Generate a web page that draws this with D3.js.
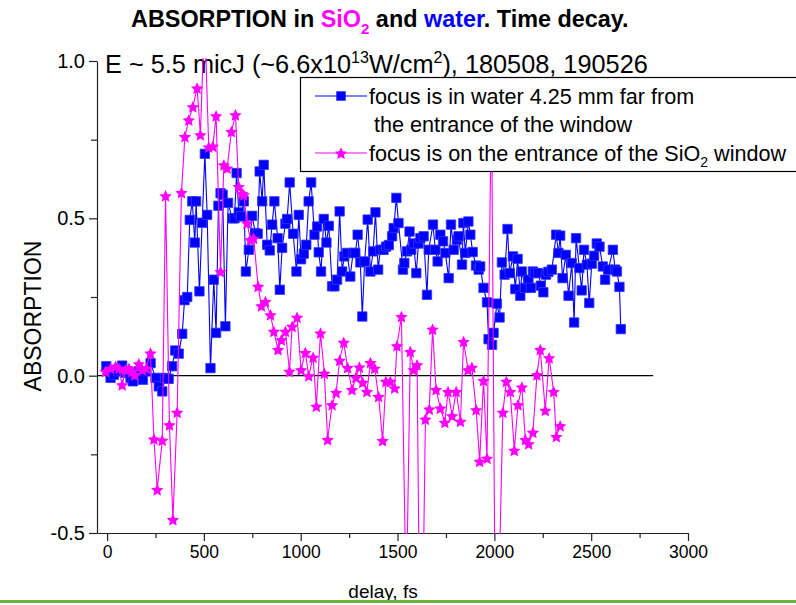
<!DOCTYPE html>
<html>
<head>
<meta charset="utf-8">
<script src="https://cdn.jsdelivr.net/npm/d3@7"></script>
<style>
  html, body { margin: 0; padding: 0; background: #fff; }
  svg { display: block; }
  text { font-family: "Liberation Sans", Arial, Helvetica, sans-serif; }
</style>
</head>
<body>
<svg id="chart" width="796" height="605"></svg>
<script>
// Water series: focus 4.25 mm inside the water (delay in fs, absorption)
const waterDelay = [
  -4, 18, 35, 58, 78, 92, 104, 121, 133, 147, 164, 185, 199, 225, 250, 267, 285, 300, 318, 336,
  352, 370, 388, 400, 414, 427, 440, 453, 460, 477, 491, 505, 517, 534, 551, 563, 575, 586, 597, 611,
  625, 646, 658, 669, 680, 692, 706, 717, 732, 749, 766, 778, 788, 801, 809, 827, 840, 852, 864, 881,
  892, 904, 921, 930, 943, 961, 978, 990, 1002, 1016, 1029, 1041, 1054, 1071, 1085, 1093, 1105, 1119, 1133, 1145,
  1162, 1174, 1188, 1201, 1214, 1225, 1239, 1256, 1270, 1282, 1294, 1308, 1318, 1330, 1346, 1360, 1374, 1386, 1400, 1411,
  1428, 1441, 1455, 1472, 1480, 1494, 1505, 1528, 1535, 1549, 1562, 1571, 1583, 1597, 1608, 1618, 1635, 1652, 1661, 1683,
  1695, 1707, 1721, 1735, 1747, 1764, 1776, 1790, 1807, 1815, 1833, 1840, 1850, 1866, 1876, 1888, 1905, 1919, 1927, 1944,
  1962, 1970, 1988, 1996, 2013, 2027, 2039, 2053, 2068, 2079, 2096, 2108, 2120, 2134, 2142, 2159, 2176, 2189, 2199, 2210,
  2228, 2240, 2253, 2267, 2279, 2297, 2319, 2331, 2340, 2352, 2369, 2383, 2400, 2412, 2422, 2439, 2451, 2463, 2478, 2490,
  2503, 2515, 2529, 2543, 2560, 2572, 2589, 2612, 2624, 2633, 2646, 2653
];
const waterAbs = [
  0.030, -0.007, 0.003, 0.014, 0.032, 0.009, 0.014, -0.007, -0.018, 0.003, 0.014, -0.013, 0.014, 0.040, -0.007, -0.034, -0.050, -0.007, -0.010, 0.030,
  0.080, 0.070, 0.133, 0.240, 0.250, 0.495, 0.554, 0.423, 0.554, 0.268, 0.486, 0.705, 0.511, 0.024, 0.305, 0.136, 0.540, 0.580, 0.575, 0.157,
  0.549, 0.500, 0.500, 0.644, 0.519, 0.506, 0.554, 0.331, 0.400, 0.508, 0.453, 0.451, 0.649, 0.554, 0.670, 0.416, 0.398, 0.480, 0.554, 0.437,
  0.273, 0.406, 0.483, 0.498, 0.614, 0.451, 0.331, 0.511, 0.370, 0.388, 0.416, 0.554, 0.614, 0.448, 0.474, 0.392, 0.331, 0.498, 0.423, 0.476,
  0.284, 0.284, 0.305, 0.522, 0.331, 0.379, 0.390, 0.315, 0.390, 0.390, 0.448, 0.360, 0.188, 0.363, 0.496, 0.331, 0.395, 0.519, 0.337, 0.400,
  0.400, 0.410, 0.415, 0.443, 0.469, 0.565, 0.485, 0.337, 0.358, 0.395, 0.458, 0.400, 0.420, 0.326, 0.420, 0.437, 0.443, 0.257, 0.400, 0.480,
  0.400, 0.363, 0.448, 0.427, 0.390, 0.310, 0.480, 0.400, 0.432, 0.443, 0.353, 0.485, 0.390, 0.490, 0.448, 0.393, 0.350, 0.337, 0.347, 0.279,
  0.233, 0.116, 0.098, 0.136, 0.229, 0.185, 0.360, 0.321, 0.466, 0.326, 0.379, 0.275, 0.371, 0.254, 0.331, 0.279, 0.305, 0.279, 0.331, 0.326,
  0.326, 0.286, 0.265, 0.321, 0.330, 0.337, 0.448, 0.390, 0.445, 0.310, 0.384, 0.254, 0.358, 0.169, 0.437, 0.342, 0.271, 0.400, 0.353, 0.231,
  0.356, 0.381, 0.420, 0.410, 0.347, 0.305, 0.337, 0.400, 0.337, 0.331, 0.282, 0.148
];

// SiO2 series: focus on the entrance of the SiO2 window
const sio2Delay = [
  -8, 18, 44, 61, 78, 95, 113, 130, 143, 164, 182, 202, 224, 242, 259, 285, 302, 322, 340, 362,
  384, 402, 422, 443, 465, 482, 503, 525, 546, 563, 586, 603, 620, 642, 663, 680, 697, 706, 723, 740,
  757, 780, 797, 818, 844, 861, 883, 900, 921, 942, 956, 981, 1002, 1024, 1041, 1064, 1081, 1102, 1122, 1139,
  1162, 1183, 1201, 1222, 1242, 1265, 1285, 1303, 1320, 1342, 1360, 1382, 1402, 1423, 1440, 1463, 1485, 1497, 1520, 1545,
  1566, 1583, 1601, 1620, 1644, 1664, 1681, 1699, 1721, 1744, 1761, 1782, 1803, 1825, 1841, 1864, 1884, 1906, 1924, 1944,
  1962, 1985, 2008, 2044, 2062, 2082, 2103, 2122, 2142, 2160, 2177, 2199, 2220, 2237, 2263, 2283, 2306, 2320, 2340
];
const sio2Abs = [
  0.014, 0.024, 0.030, 0.024, -0.029, 0.019, 0.024, 0.014, 0.003, 0.038, 0.019, 0.024, 0.072, -0.201, -0.362, -0.205, 0.572, -0.156, -0.457, -0.116,
  0.582, 0.760, 0.813, 0.855, 0.914, 0.766, 1.150, 0.727, 0.729, 0.826, 0.331, 0.670, 0.660, 0.776, 0.829, 0.601, 0.580, 0.575, 0.485, 0.432,
  0.437, 0.284, 0.222, 0.236, 0.194, 0.141, 0.083, 0.114, 0.141, 0.014, 0.157, 0.186, 0.019, 0.074, 0.000, 0.059, -0.097, 0.136, 0.008, -0.203,
  -0.092, -0.053, 0.049, 0.106, 0.026, -0.044, -0.005, 0.028, -0.021, -0.050, 0.042, 0.024, -0.066, -0.206, -0.018, -0.018, -0.039, 0.095, 0.188, -0.740,
  0.077, 0.019, 0.035, -1.200, -0.138, -0.106, 0.148, -0.044, -0.103, -0.148, -0.050, -0.127, -0.050, -0.145, 0.109, 0.019, 0.027, -0.108, -0.272, -0.015,
  -0.262, 0.900, -1.100, -0.116, -0.018, -0.050, -0.237, -0.092, -0.036, -0.203, -0.216, -0.180, 0.003, 0.083, -0.110, 0.057, -0.050, -0.193, -0.159
];

const xMajorTicks = [0, 500, 1000, 1500, 2000, 2500, 3000];
const xMinorTicks = [250, 750, 1250, 1750, 2250, 2750];
const yMajorTicks = [-0.5, 0.0, 0.5, 1.0];
const yMinorTicks = [-0.25, 0.25, 0.75];

const BLUE = "#0000ff";
const MAGENTA = "#ff00ff";
const FONT = '"Liberation Sans", Arial, Helvetica, sans-serif';

const svg = d3.select("#chart");

const x = d3.scaleLinear().domain([-52, 3000]).range([97, 688]);
const y = d3.scaleLinear().domain([-0.5, 1.0]).range([533, 61]);

// ---- titles ----
const title = svg.append("text")
  .attr("x", 131).attr("y", 27)
  .attr("font-size", 23.4).attr("font-weight", "bold").attr("fill", "#000");
title.append("tspan").text("ABSORPTION in ");
title.append("tspan").attr("fill", MAGENTA).text("SiO");
title.append("tspan").attr("fill", MAGENTA).attr("font-size", 15).attr("dy", 7).text("2");
title.append("tspan").attr("dy", -7).text(" and ");
title.append("tspan").attr("fill", BLUE).text("water");
title.append("tspan").text(". Time decay.");

const sub = svg.append("text")
  .attr("x", 105).attr("y", 73)
  .attr("font-size", 25.3).attr("fill", "#000");
sub.append("tspan").text("E ~ 5.5 micJ (~6.6x10");
sub.append("tspan").attr("font-size", 16).attr("dy", -10).text("13");
sub.append("tspan").attr("dy", 10).text("W/cm");
sub.append("tspan").attr("font-size", 16).attr("dy", -10).text("2");
sub.append("tspan").attr("dy", 10).text("), 180508, 190526");

// ---- axes ----
const axisColor = "#222";
const yFormat = v => d3.format(".1f")(v).replace("\u2212", "-");

const gx = svg.append("g").attr("transform", `translate(0,${y.range()[0]})`);
gx.call(d3.axisBottom(x).tickValues(xMajorTicks).tickSize(8).tickSizeOuter(0).tickPadding(5).tickFormat(d3.format("d")));
const gxm = svg.append("g").attr("transform", `translate(0,${y.range()[0]})`);
gxm.call(d3.axisBottom(x).tickValues(xMinorTicks).tickSize(5).tickSizeOuter(0).tickFormat(""));
gxm.select(".domain").remove();

const gy = svg.append("g").attr("transform", `translate(${x.range()[0]},0)`);
gy.call(d3.axisLeft(y).tickValues(yMajorTicks).tickSize(8).tickSizeOuter(0).tickPadding(4).tickFormat(yFormat));
const gym = svg.append("g").attr("transform", `translate(${x.range()[0]},0)`);
gym.call(d3.axisLeft(y).tickValues(yMinorTicks).tickSize(6).tickSizeOuter(0).tickFormat(""));
gym.select(".domain").remove();

[gx, gxm, gy, gym].forEach(g => {
  g.selectAll(".domain").attr("stroke", axisColor).attr("stroke-width", 1.2);
  g.selectAll(".tick line").attr("stroke", axisColor).attr("stroke-width", 1.2);
});
gx.selectAll(".tick text").attr("font-family", FONT).attr("font-size", 17.5).attr("fill", "#000");
gy.selectAll(".tick text").attr("font-family", FONT).attr("font-size", 20).attr("fill", "#000");

// axis titles
svg.append("text")
  .attr("x", 383).attr("y", 598).attr("text-anchor", "middle")
  .attr("font-size", 19).attr("fill", "#000").text("delay, fs");
svg.append("text")
  .attr("transform", "translate(41,316) rotate(-90)").attr("text-anchor", "middle")
  .attr("font-size", 23).attr("fill", "#000").text("ABSORPTION");

// zero reference line
svg.append("line")
  .attr("x1", x(-52)).attr("x2", x(2820))
  .attr("y1", y(0)).attr("y2", y(0))
  .attr("stroke", "#000").attr("stroke-width", 1.2);

// ---- data ----
svg.append("clipPath").attr("id", "plotClip")
  .append("rect").attr("x", 90).attr("y", 58).attr("width", 640).attr("height", 476);

const plot = svg.append("g").attr("clip-path", "url(#plotClip)");

const water = waterDelay.map((d, i) => [d, waterAbs[i]]);
const sio2 = sio2Delay.map((d, i) => [d, sio2Abs[i]]);

const line = d3.line().x(d => x(d[0])).y(d => y(d[1]));

// five-pointed star with a fairly wide body
const fatStar = {
  draw(context, size) {
    const R = Math.sqrt(size) * 0.62;
    const r = R * 0.48;
    for (let i = 0; i < 10; i++) {
      const rad = i % 2 === 0 ? R : r;
      const a = -Math.PI / 2 + i * Math.PI / 5;
      const px = rad * Math.cos(a), py = rad * Math.sin(a);
      if (i === 0) context.moveTo(px, py); else context.lineTo(px, py);
    }
    context.closePath();
  }
};

const squareSym = d3.symbol().type(d3.symbolSquare).size(88);
const starSym = d3.symbol().type(fatStar).size(110);

plot.append("path").datum(water)
  .attr("fill", "none").attr("stroke", BLUE).attr("stroke-width", 1.1).attr("d", line);
plot.append("g").selectAll("path").data(water).join("path")
  .attr("transform", d => `translate(${x(d[0])},${y(d[1])})`)
  .attr("d", squareSym)
  .attr("fill", BLUE).attr("stroke", "#3535ff").attr("stroke-width", 0.8);

plot.append("path").datum(sio2)
  .attr("fill", "none").attr("stroke", MAGENTA).attr("stroke-width", 1.1).attr("d", line);
plot.append("g").selectAll("path").data(sio2).join("path")
  .attr("transform", d => `translate(${x(d[0])},${y(d[1]) + 0.8})`)
  .attr("d", starSym)
  .attr("fill", MAGENTA);

// ---- legend ----
const lg = svg.append("g");
lg.append("rect")
  .attr("x", 300.5).attr("y", 77.5).attr("width", 520).attr("height", 94)
  .attr("fill", "#fff").attr("stroke", "#000").attr("stroke-width", 1.2);

const legendRows = [
  { y: 96, color: BLUE, sym: squareSym },
  { y: 153, color: MAGENTA, sym: starSym }
];
legendRows.forEach(r => {
  lg.append("line").attr("x1", 315).attr("x2", 367).attr("y1", r.y).attr("y2", r.y)
    .attr("stroke", r.color).attr("stroke-width", 1.2);
  lg.append("path").attr("transform", `translate(341,${r.y + (r.sym === starSym ? 0.8 : 0)})`)
    .attr("d", r.sym).attr("fill", r.color);
});
lg.append("text").attr("x", 369).attr("y", 104).attr("font-size", 21.6).attr("fill", "#000")
  .text("focus is in water 4.25 mm far from");
lg.append("text").attr("x", 374).attr("y", 132).attr("font-size", 21.6).attr("fill", "#000")
  .text("the entrance of the window");
const l3 = lg.append("text").attr("x", 369).attr("y", 161).attr("font-size", 21.6).attr("fill", "#000");
l3.append("tspan").text("focus is on the entrance of the SiO");
l3.append("tspan").attr("font-size", 14).attr("dy", 6).text("2");
l3.append("tspan").attr("dy", -6).text(" window");

// bottom rule
svg.append("rect").attr("x", 0).attr("y", 600).attr("width", 796).attr("height", 3)
  .attr("fill", "#6cb33f");
</script>
</body>
</html>
